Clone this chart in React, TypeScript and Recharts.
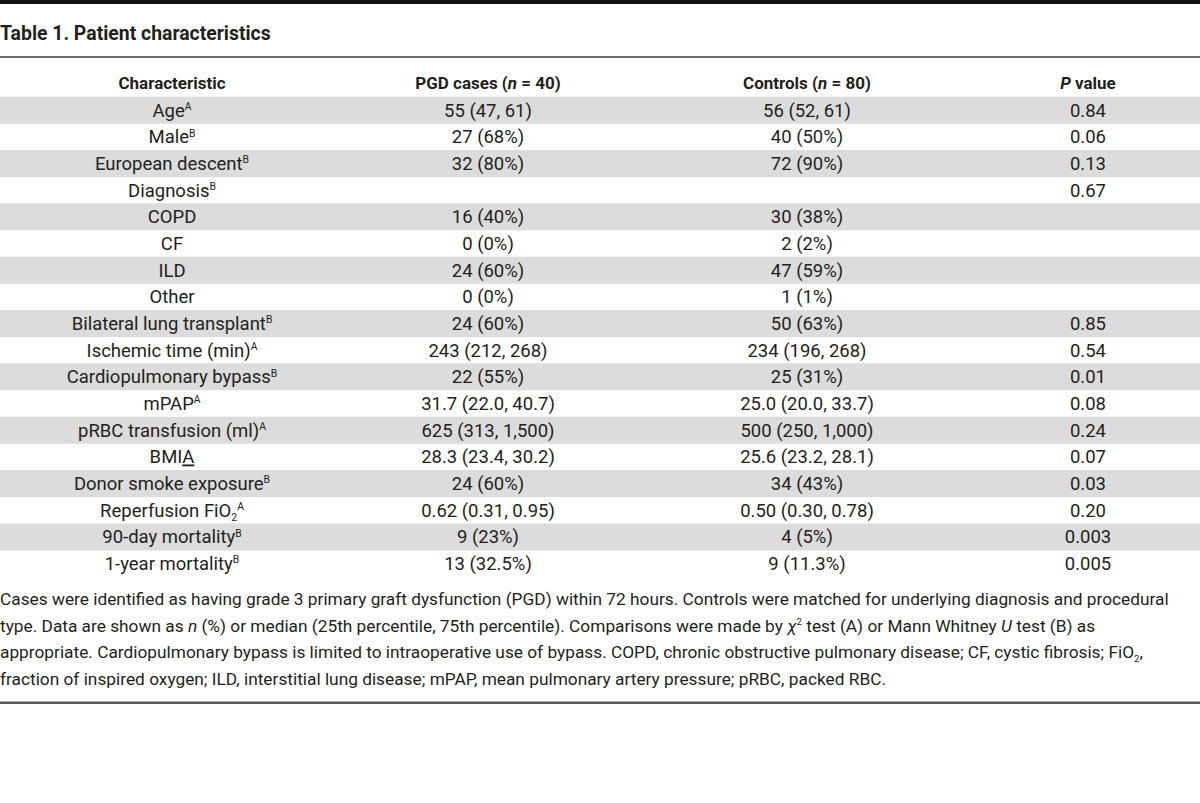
import React from 'react';
import { ComposedChart, Bar, XAxis, YAxis, Cell, LabelList } from 'recharts';

// ---- Data ----
const headers = ['Characteristic', 'PGD cases (*n* = 40)', 'Controls (*n* = 80)', '*P* value'];
const characteristics = [
  'Age^{A}', 'Male^{B}', 'European descent^{B}', 'Diagnosis^{B}', 'COPD', 'CF', 'ILD', 'Other',
  'Bilateral lung transplant^{B}', 'Ischemic time (min)^{A}', 'Cardiopulmonary bypass^{B}', 'mPAP^{A}',
  'pRBC transfusion (ml)^{A}', 'BMI~{A}', 'Donor smoke exposure^{B}', 'Reperfusion FiO_{2}^{A}',
  '90-day mortality^{B}', '1-year mortality^{B}',
];
const pgdCases = [
  '55 (47, 61)', '27 (68%)', '32 (80%)', '', '16 (40%)', '0 (0%)', '24 (60%)', '0 (0%)', '24 (60%)',
  '243 (212, 268)', '22 (55%)', '31.7 (22.0, 40.7)', '625 (313, 1,500)', '28.3 (23.4, 30.2)', '24 (60%)',
  '0.62 (0.31, 0.95)', '9 (23%)', '13 (32.5%)',
];
const controls = [
  '56 (52, 61)', '40 (50%)', '72 (90%)', '', '30 (38%)', '2 (2%)', '47 (59%)', '1 (1%)', '50 (63%)',
  '234 (196, 268)', '25 (31%)', '25.0 (20.0, 33.7)', '500 (250, 1,000)', '25.6 (23.2, 28.1)', '34 (43%)',
  '0.50 (0.30, 0.78)', '4 (5%)', '9 (11.3%)',
];
const pValues = [
  '0.84', '0.06', '0.13', '0.67', '', '', '', '', '0.85', '0.54', '0.01', '0.08', '0.24', '0.07', '0.03',
  '0.20', '0.003', '0.005',
];
const title = 'Table 1. Patient characteristics';
const footnotes = [
  'Cases were identified as having grade 3 primary graft dysfunction (PGD) within 72 hours. Controls were matched for underlying diagnosis and procedural',
  'type. Data are shown as *n* (%) or median (25th percentile, 75th percentile). Comparisons were made by *χ*^{2} test (A) or Mann Whitney *U* test (B) as',
  'appropriate. Cardiopulmonary bypass is limited to intraoperative use of bypass. COPD, chronic obstructive pulmonary disease; CF, cystic fibrosis; FiO_{2},',
  'fraction of inspired oxygen; ILD, interstitial lung disease; mPAP, mean pulmonary artery pressure; pRBC, packed RBC.',
];

// ---- Styling / layout constants ----
const FONT = 'Roboto, "Noto Sans", sans-serif';
const TEXT = '#231f20';
const BAND = '#dcdcdc';
const W = 1200;
const ROW_H = 26.67;
const TABLE_TOP = 70;
const colCenters = [172, 488, 807, 1088];
const BODY_SIZE = 18.5;
const HEAD_SIZE = 17;

const rows = [
  { id: 'h', c0: headers[0], c1: headers[1], c2: headers[2], c3: headers[3], header: true, span: 1, shade: false },
  ...characteristics.map((c, i) => ({
    id: 'r' + i, c0: c, c1: pgdCases[i], c2: controls[i], c3: pValues[i], header: false, span: 1, shade: i % 2 === 0,
  })),
];

type Seg = { t: string; k: 'n' | 'sup' | 'sub' | 'it' | 'u' };
function parse(s: string): Seg[] {
  const out: Seg[] = [];
  const re = /(\^\{[^}]*\}|_\{[^}]*\}|~\{[^}]*\}|\*[^*]+\*)/g;
  let last = 0;
  let m: RegExpExecArray | null;
  while ((m = re.exec(s))) {
    if (m.index > last) out.push({ t: s.slice(last, m.index), k: 'n' });
    const tok = m[0];
    if (tok[0] === '^') out.push({ t: tok.slice(2, -1), k: 'sup' });
    else if (tok[0] === '_') out.push({ t: tok.slice(2, -1), k: 'sub' });
    else if (tok[0] === '~') out.push({ t: tok.slice(2, -1), k: 'u' });
    else out.push({ t: tok.slice(1, -1), k: 'it' });
    last = m.index + tok.length;
  }
  if (last < s.length) out.push({ t: s.slice(last), k: 'n' });
  return out;
}

function Rich({ s, x, y, anchor, size, bold }: { s: string; x: number; y: number; anchor: 'start' | 'middle'; size: number; bold?: boolean }) {
  const segs = parse(s);
  let cur = 0;
  const supShift = -size * 0.36;
  const subShift = size * 0.24;
  return (
    <text x={x} y={y} textAnchor={anchor} fontFamily={FONT} fontSize={size} fontWeight={bold ? 700 : 400} fill={TEXT} style={{ whiteSpace: 'pre' }}>
      {segs.map((g, i) => {
        const target = g.k === 'sup' ? supShift : g.k === 'sub' ? subShift : 0;
        const dy = target - cur;
        cur = target;
        const small = g.k === 'sup' || g.k === 'sub';
        return (
          <tspan
            key={i}
            dy={dy || undefined}
            fontSize={small ? size * 0.56 : undefined}
            fontStyle={g.k === 'it' ? 'italic' : undefined}
            textDecoration={g.k === 'u' ? 'underline' : undefined}
          >
            {g.t}
          </tspan>
        );
      })}
    </text>
  );
}

const makeCell = (col: number) => (props: any) => {
  const vb = props.viewBox || {};
  const y = props.y ?? vb.y;
  const h = props.height ?? vb.height;
  const idx = props.index;
  const row = rows[idx];
  const val = props.value as string;
  if (!val) return null;
  const isHead = row && row.header;
  return (
    <Rich
      s={val}
      x={colCenters[col]}
      y={y + h / 2 + (isHead ? 5.5 : 6.6)}
      anchor="middle"
      size={isHead ? HEAD_SIZE : BODY_SIZE}
      bold={isHead}
    />
  );
};

export default function App() {
  return (
    <div style={{ position: 'absolute', left: 0, top: 0, width: W, height: 803, background: '#fff', overflow: 'hidden' }}>
      <svg width={W} height={803} style={{ position: 'absolute', left: 0, top: 0 }}>
        <rect x={0} y={0} width={W} height={4} fill="#111" />
        <Rich s={title} x={0} y={39.5} anchor="start" size={19.4} bold />
        <rect x={0} y={56.3} width={W} height={1.4} fill="#333" />
        {footnotes.map((f, i) => (
          <Rich key={i} s={f} x={0} y={605 + i * 26.67} anchor="start" size={17.3} />
        ))}
        <rect x={0} y={701.5} width={W} height={2.5} fill="#5a5a5a" />
      </svg>
      <div style={{ position: 'absolute', left: 0, top: TABLE_TOP }}>
        <ComposedChart
          layout="vertical"
          width={W}
          height={ROW_H * rows.length}
          data={rows}
          margin={{ top: 0, right: 0, bottom: 0, left: 0 }}
          barCategoryGap={0}
          barGap={0}
        >
          <XAxis type="number" domain={[0, 1]} hide />
          <YAxis type="category" dataKey="id" hide />
          <Bar dataKey="span" isAnimationActive={false}>
            {rows.map((r, i) => (
              <Cell key={i} fill={r.shade ? BAND : 'transparent'} />
            ))}
            <LabelList dataKey="c0" content={makeCell(0)} />
            <LabelList dataKey="c1" content={makeCell(1)} />
            <LabelList dataKey="c2" content={makeCell(2)} />
            <LabelList dataKey="c3" content={makeCell(3)} />
          </Bar>
        </ComposedChart>
      </div>
    </div>
  );
}
